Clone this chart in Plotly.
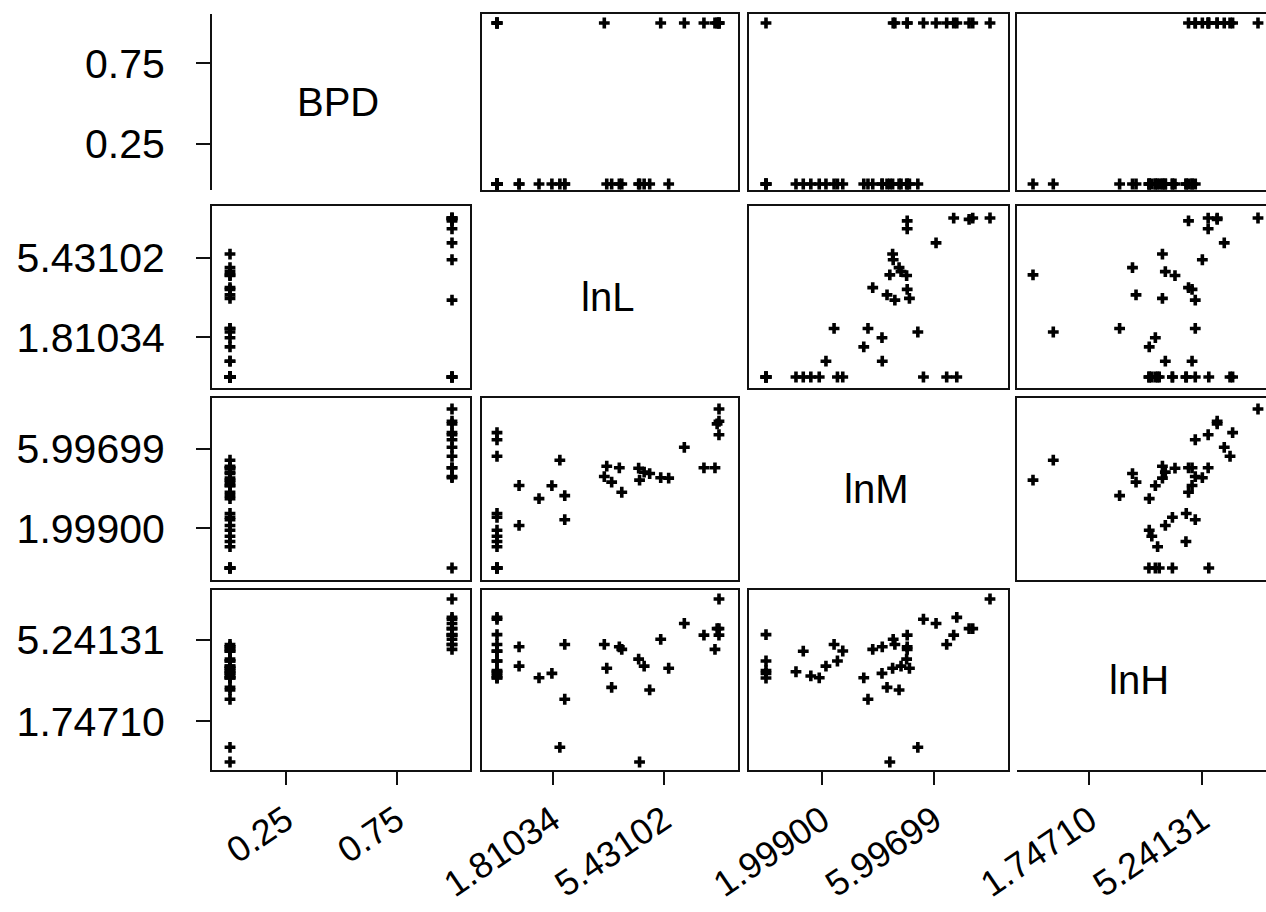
import plotly.graph_objects as go

# ---------------- data ----------------
variables = ["BPD", "lnL", "lnM", "lnH"]

bpd = [0] * 26 + [1] * 13
lnL = [0.72, 0.72, 1.37, 1.79, 2.05, 2.21, 2.21, 3.58, 3.74, 4.07, 3.99, 4.65, 4.98, 4.80, 4.62, 5.60,
       0, 0, 0, 0, 0, 0, 0, 0, 0, 0,
       7.24136, 7.24, 7.18, 7.24, 7.11, 6.75, 6.11, 5.34, 3.50, 0, 0, 0, 0]
lnM = [4.15, 2.14, 3.49, 4.14, 5.42, 3.64, 2.43, 5.12, 4.32, 3.81, 5.04, 4.42, 4.75, 4.82, 5.02, 4.52,
       0, 0, 0, 0, 1.07, 1.33, 1.60, 1.90, 2.55, 2.74,
       7.995985, 7.38, 7.25, 6.70, 5.04, 5.04, 6.07, 4.54, 4.60, 0, 5.62, 6.45, 6.81]
lnH = [4.94, 4.11, 3.61, 3.80, 0.63, 2.69, 5.04, 4.02, 3.20, 4.83, 4.94, 0.00, 3.09, 4.11, 4.41, 4.02,
       4.33, 3.92, 3.80, 3.60, 3.87, 4.75, 3.69, 3.61, 4.33, 4.76,
       6.98841, 5.72, 5.72, 5.44, 4.83, 5.44, 5.94, 5.26, 5.04, 5.46, 6.12, 5.04, 6.20]

tick_fracs = [0.25, 0.75]
tick_text = {
    "BPD": ["0.25", "0.75"],
    "lnL": ["1.81034", "5.43102"],
    "lnM": ["1.99900", "5.99699"],
    "lnH": ["1.74710", "5.24131"],
}

data = {"BPD": bpd, "lnL": lnL, "lnM": lnM, "lnH": lnH}

# ---------------- layout geometry (pixels) ----------------
W, H = 1266, 912
COL_PX = [(212, 470), (482, 738), (749, 1008), (1017, 1266)]
ROW_PX = [(14, 190), (206, 388), (398, 580), (590, 770)]
XMAP = [(230, 452), (497, 719), (766, 990), (1033, 1258)]   # pixel of var min / max
YMAP = [(184, 23), (377, 218), (568, 409), (762, 599)]

FONT = "Arial, 'Liberation Sans', sans-serif"
LINE = "#111111"


def xr(j, vmin, vmax):
    p0, p1 = XMAP[j]
    L, R = COL_PX[j]
    s = (vmax - vmin) / (p1 - p0)
    return [vmin + (L - p0) * s, vmin + (R - p0) * s]


def yr(i, vmin, vmax):
    p0, p1 = YMAP[i]
    T, B = ROW_PX[i]
    s = (vmax - vmin) / (p0 - p1)
    return [vmin - (B - p0) * s, vmin + (p0 - T) * s]


fig = go.Figure()
layout = {}
annotations = []

for i, rv in enumerate(variables):
    for j, cv in enumerate(variables):
        k = i * 4 + j + 1
        xname = "x" if k == 1 else f"x{k}"
        yname = "y" if k == 1 else f"y{k}"
        xkey = "xaxis" if k == 1 else f"xaxis{k}"
        ykey = "yaxis" if k == 1 else f"yaxis{k}"

        xv = data[cv]
        yv = data[rv]
        xmin, xmax = min(xv), max(xv)
        ymin, ymax = min(yv), max(yv)

        if i != j:
            fig.add_trace(go.Scatter(
                x=xv, y=yv, mode="markers", xaxis=xname, yaxis=yname,
                marker=dict(symbol="cross", size=9, color="black", line=dict(width=0)),
                showlegend=False, hoverinfo="skip", cliponaxis=False))
        else:
            fig.add_trace(go.Scatter(x=[], y=[], xaxis=xname, yaxis=yname, showlegend=False))
            annotations.append(dict(
                text=rv, xref=f"{xname} domain", yref=f"{yname} domain",
                x=0.49, y=0.5, showarrow=False,
                font=dict(family=FONT, size=40, color="black")))

        L, R = COL_PX[j]
        T, B = ROW_PX[i]

        off = i != j
        xa = dict(domain=[L / W, R / W], range=xr(j, xmin, xmax), anchor=yname,
                  showgrid=False, zeroline=False, showline=off, mirror=off,
                  linecolor=LINE, linewidth=2, fixedrange=True, automargin=False,
                  showticklabels=False, ticks="")
        ya = dict(domain=[1 - B / H, 1 - T / H], range=yr(i, ymin, ymax), anchor=xname,
                  showgrid=False, zeroline=False, showline=off, mirror=(off and j != 3),
                  linecolor=LINE, linewidth=2, fixedrange=True, automargin=False,
                  showticklabels=False, ticks="")

        if i == 0 and j == 0:
            ya["showline"] = True
        if i == 3 and j == 3:
            xa["showline"] = True

        if i == 3:
            xa.update(ticks="outside", ticklen=13, tickwidth=2, tickcolor=LINE,
                      tickvals=[xmin + f * (xmax - xmin) for f in tick_fracs],
                      ticktext=tick_text[cv], showticklabels=True, tickangle=-34,
                      ticklabelstandoff=0,
                      tickfont=dict(family=FONT, size=36, color="black"))
        if j == 0:
            ya.update(ticks="outside", ticklen=14, tickwidth=2, tickcolor=LINE,
                      tickvals=[ymin + f * (ymax - ymin) for f in tick_fracs],
                      ticktext=tick_text[rv], showticklabels=True,
                      ticklabelstandoff=23,
                      tickfont=dict(family=FONT, size=41, color="black"))

        layout[xkey] = xa
        layout[ykey] = ya

fig.update_layout(**layout)
fig.update_layout(
    width=W, height=H, autosize=False,
    margin=dict(l=0, r=0, t=0, b=0, autoexpand=False),
    paper_bgcolor="white", plot_bgcolor="white",
    annotations=annotations, showlegend=False,
)

fig.write_html("out.html")
